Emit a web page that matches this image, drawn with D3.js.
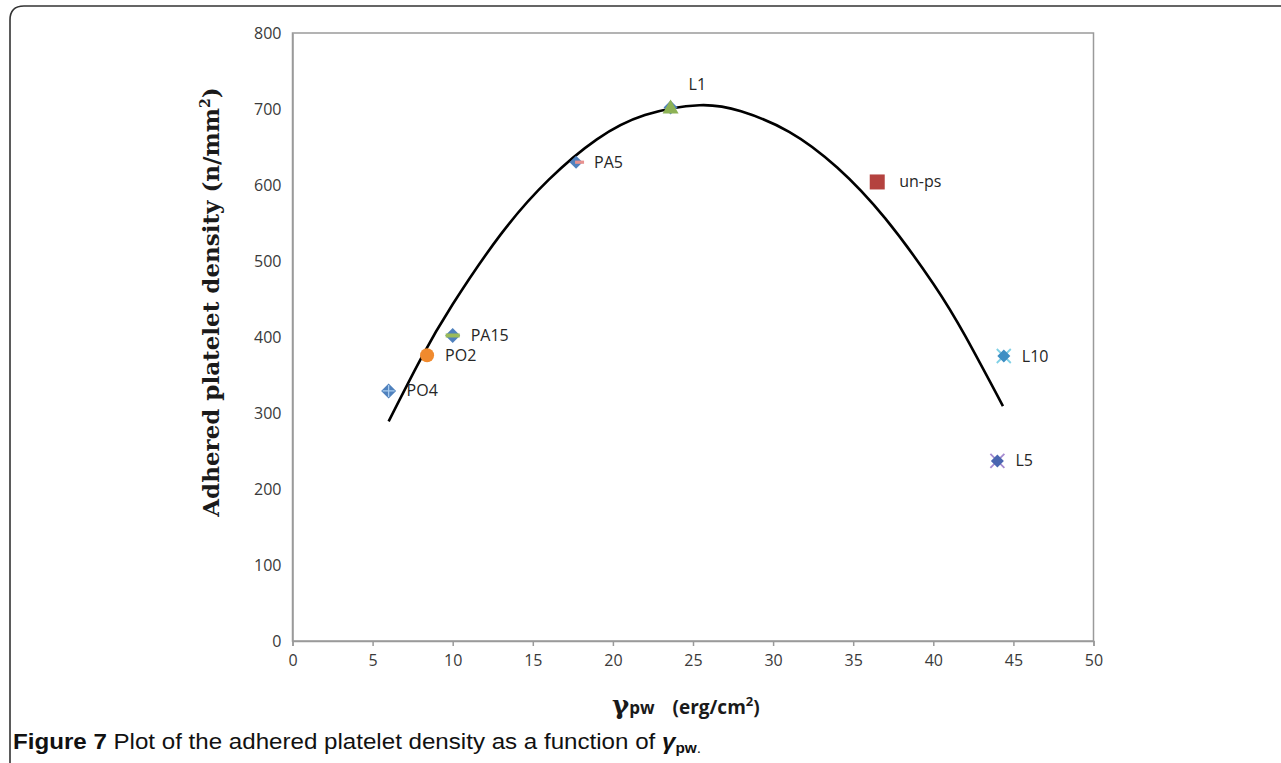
<!DOCTYPE html>
<html><head><meta charset="utf-8">
<script src="https://cdn.jsdelivr.net/npm/d3@7"></script>
<style>body{margin:0;background:#fff;}svg{display:block;}</style>
</head><body>
<script>
// Data points
const labels = ["PO4","PO2","PA15","PA5","L1","un-ps","L10","L5"];
const gammaPW = [6.0, 8.4, 10.0, 17.7, 23.6, 36.5, 44.4, 44.0];
const density = [329, 376, 402, 630, 702, 604, 375, 237];
const markerKinds = ["diamondPlus","circle","diamondGreen","diamondRed","triangle","square","xCyan","xPurple"];
// Trendline points
const trendX = [6, 8, 10, 13, 16, 19, 22, 25.4, 28, 31, 34, 37, 40, 42, 44.35];
const trendY = [289, 371, 443, 535, 607, 660, 692, 705, 697, 670, 623, 556, 470, 401, 309];
const xTicks = [0,5,10,15,20,25,30,35,40,45,50];
const yTicks = [0,100,200,300,400,500,600,700,800];

const W=1281,H=763;
const svg=d3.select("body").append("svg").attr("width",W).attr("height",H);
// outer frame
svg.append("path").attr("d","M10,763 L10,20 Q10,6 24,6 L1281,6").attr("fill","none").attr("stroke","#333").attr("stroke-width",1.6);

const x=d3.scaleLinear().domain([0,50]).range([292.5,1093.5]);
const y=d3.scaleLinear().domain([0,800]).range([641,33]);

// plot frame
svg.append("rect").attr("x",x(0)).attr("y",y(800)).attr("width",x(50)-x(0)).attr("height",y(0)-y(800))
  .attr("fill","none").attr("stroke","#9a9a9a").attr("stroke-width",1.5);

const xa=svg.append("g").attr("transform",`translate(0,${y(0)})`)
  .call(d3.axisBottom(x).tickValues(xTicks).tickSize(5).tickPadding(9).tickFormat(d3.format("d")));
const ya=svg.append("g").attr("transform",`translate(${x(0)},0)`)
  .call(d3.axisLeft(y).tickValues(yTicks).tickSize(0).tickPadding(11).tickFormat(d3.format("d")));
[xa,ya].forEach(g=>{
  g.attr("font-size",null).attr("font-family",null);
  g.select(".domain").attr("stroke","#9a9a9a").attr("stroke-width",1.5);
  g.selectAll(".tick line").attr("stroke","#9a9a9a").attr("stroke-width",1.5);
  g.selectAll("text").style("font-family","'Open Sans',sans-serif").style("font-size","16px").attr("fill","#3a3a3a");
});

// trendline
const line=d3.line().x(d=>x(d[0])).y(d=>y(d[1])).curve(d3.curveNatural);
svg.append("path").datum(trendX.map((v,i)=>[v,trendY[i]])).attr("d",line)
  .attr("fill","none").attr("stroke","#000").attr("stroke-width",2.6);

// markers
const blue="#4F81BD";
function diamond(g,s,c){g.append("path").attr("d",`M0,${-s}L${s},0L0,${s}L${-s},0Z`).attr("fill",c);}
labels.forEach((lab,i)=>{
  const g=svg.append("g").attr("transform",`translate(${x(gammaPW[i])},${y(density[i])})`);
  const k=markerKinds[i];
  if(k==="diamondPlus"){diamond(g,7.5,blue);
    g.append("path").attr("d","M-6,0H6M0,-6V6").attr("stroke","#a8cbee").attr("stroke-width",1.3);}
  else if(k==="circle"){g.append("circle").attr("r",7).attr("fill","#F08A2E");}
  else if(k==="diamondGreen"){diamond(g,7.5,blue);
    g.append("rect").attr("x",-7).attr("y",-2).attr("width",14).attr("height",4).attr("fill","#9BBB59");}
  else if(k==="diamondRed"){diamond(g,6.5,blue);
    g.append("rect").attr("x",-1).attr("y",-1.6).attr("width",9).attr("height",3.2).attr("fill","#E8928F");}
  else if(k==="triangle"){diamond(g,7,blue);
    g.append("path").attr("d","M0,-8L8,6L-8,6Z").attr("fill","#8DB255");}
  else if(k==="square"){g.append("rect").attr("x",-7.5).attr("y",-7.5).attr("width",15).attr("height",15).attr("fill","#B4423F");}
  else if(k==="xCyan"){
    g.append("path").attr("d","M-7,-7L7,7M7,-7L-7,7").attr("stroke","#7fd0e6").attr("stroke-width",1.8);
    diamond(g,6.5,"#3d8fc4");}
  else if(k==="xPurple"){
    g.append("path").attr("d","M-7,-7L7,7M7,-7L-7,7").attr("stroke","#a58bd0").attr("stroke-width",1.8);
    diamond(g,6.5,"#4a66b0");}
  const dx = lab==="L1"?18:(lab==="un-ps"?22:18);
  const dy = lab==="L1"?-17:5.5;
  g.append("text").attr("x",dx).attr("y",dy).text(lab)
    .attr("font-family","'Open Sans',sans-serif").attr("font-size",16).attr("fill","#262626");
});

// axis titles
svg.append("text").attr("transform","translate(219,302) rotate(-90)").attr("text-anchor","middle")
  .attr("font-family","'DejaVu Serif',serif").attr("font-weight","bold").attr("font-size",23).attr("fill","#1a1a1a")
  .html('Adhered platelet density (n/mm<tspan dy="-9" font-size="14">2</tspan><tspan dy="9">)</tspan>');
const xt=svg.append("text").attr("x",612).attr("y",714).attr("fill","#1a1a1a");
xt.append("tspan").text("γ").attr("font-family","'DejaVu Serif',serif").attr("font-size",26).attr("font-weight","bold");
xt.append("tspan").text("pw").attr("font-family","'Open Sans',sans-serif").attr("font-size",17).attr("font-weight","bold");
xt.append("tspan").attr("dx",18).text("(erg/cm").attr("font-family","'Open Sans',sans-serif").attr("font-size",19).attr("font-weight","bold");
xt.append("tspan").attr("dy",-8).text("2").attr("font-family","'Open Sans',sans-serif").attr("font-size",13).attr("font-weight","bold");
xt.append("tspan").attr("dy",8).text(")").attr("font-family","'Open Sans',sans-serif").attr("font-size",19).attr("font-weight","bold");

// caption
const cap=svg.append("text").attr("x",13).attr("y",749).attr("font-family","'Liberation Sans',sans-serif").attr("font-size",22).attr("fill","#111")
  .attr("textLength",688).attr("lengthAdjust","spacingAndGlyphs");
cap.append("tspan").text("Figure 7").attr("font-weight","bold");
cap.append("tspan").text(" Plot of the adhered platelet density as a function of ");
cap.append("tspan").text("γ").attr("font-style","italic").attr("font-weight","bold");
cap.append("tspan").text("pw").attr("dy",4).attr("font-size",14).attr("font-weight","bold");
cap.append("tspan").text(".").attr("font-size",14);
</script>
</body></html>
